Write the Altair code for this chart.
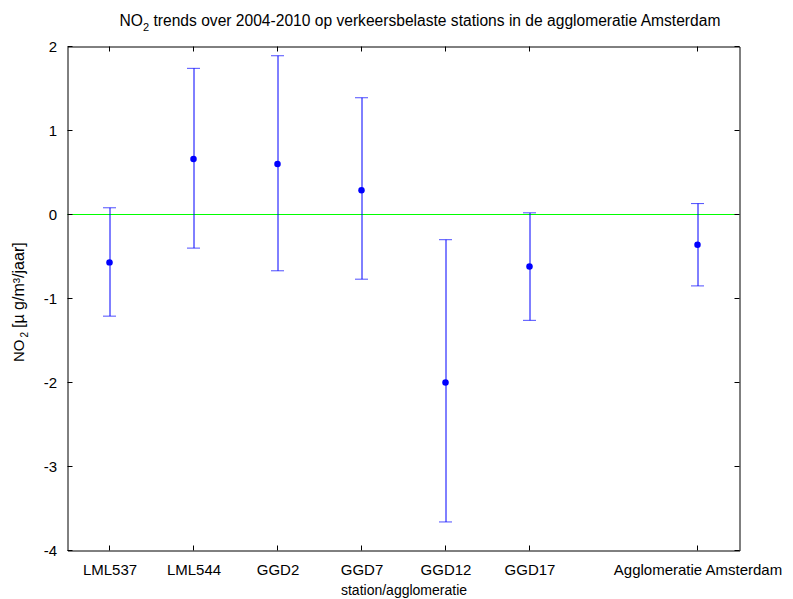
import altair as alt
import pandas as pd

# ---- data ----
stations = ["LML537", "LML544", "GGD2", "GGD7", "GGD12", "GGD17", "Agglomeratie Amsterdam"]
xpos = [1, 2, 3, 4, 5, 6, 8]
trend = [-0.57, 0.66, 0.60, 0.29, -2.00, -0.62, -0.36]
lower = [-1.21, -0.40, -0.67, -0.77, -3.66, -1.26, -0.85]
upper = [0.08, 1.74, 1.89, 1.39, -0.30, 0.02, 0.13]
ytick_values = [-4, -3, -2, -1, 0, 1, 2]
xtick_values = xpos

title_main = "NO"
title_sub = "2"
title_rest = "trends over 2004-2010 op verkeersbelaste stations in de agglomeratie Amsterdam"
ylab_main = "NO"
ylab_sub = "2"
ylab_rest = "[\u00b5 g/m\u00b3/jaar]"
xlab = "station/agglomeratie"

FONT = "Liberation Sans"
W, H = 672, 504
BLUE = "#0000ff"

label_expr = " : ".join(
    f"datum.value == {p} ? '{s}'" for p, s in zip(xpos, stations)
) + " : ''"

xs = alt.Scale(domain=[0.5, 8.5], nice=False, zero=False)
ys = alt.Scale(domain=[-4, 2], nice=False, zero=False)
xaxis = alt.Axis(values=xtick_values, labelExpr=label_expr, title=xlab, grid=False,
                 ticks=False, domain=False, labelPadding=12, titlePadding=6,
                 labelFont=FONT, labelFontSize=15, labelColor="black",
                 titleFont=FONT, titleFontSize=14, titleFontWeight="normal", titleColor="black",
                 labelOverlap=False)
yaxis = alt.Axis(values=ytick_values, title=None, grid=False, ticks=False, domain=False,
                 labelPadding=11, labelFont=FONT, labelFontSize=15, labelColor="black",
                 labelExpr="toString(datum.value)")

X = alt.X("x:Q", scale=xs, axis=xaxis)
Y = alt.Y("y:Q", scale=ys, axis=yaxis)

df_bar = pd.DataFrame({"x": xpos, "y": lower, "y2": upper})
df_lo = pd.DataFrame({"x": xpos, "y": lower})
df_hi = pd.DataFrame({"x": xpos, "y": upper})
df_pt = pd.DataFrame({"x": xpos, "y": trend})
df_zero = pd.DataFrame({"y": [0]})
df_xt = pd.DataFrame({"x": xtick_values})
df_yt = pd.DataFrame({"y": ytick_values})

zero = alt.Chart(df_zero).mark_rule(color="#00ff00", strokeWidth=1).encode(y=Y)
bars = alt.Chart(df_bar).mark_rule(color=BLUE, strokeWidth=1, xOffset=0.5).encode(x=X, y=Y, y2="y2:Q")
cap_lo = alt.Chart(df_lo).mark_tick(color=BLUE, orient="horizontal", size=13, thickness=1).encode(x=X, y=Y)
cap_hi = alt.Chart(df_hi).mark_tick(color=BLUE, orient="horizontal", size=13, thickness=1).encode(x=X, y=Y)
pts = alt.Chart(df_pt).mark_circle(color=BLUE, opacity=1, size=42).encode(x=X, y=Y)

TL = 5
xt_bot = alt.Chart(df_xt).mark_rule(color="black", strokeWidth=1).encode(x=X, y=alt.value(H - TL), y2=alt.value(H))
xt_top = alt.Chart(df_xt).mark_rule(color="black", strokeWidth=1).encode(x=X, y=alt.value(0), y2=alt.value(TL))
yt_left = alt.Chart(df_yt).mark_rule(color="black", strokeWidth=1).encode(y=Y, x=alt.value(0), x2=alt.value(TL))
yt_right = alt.Chart(df_yt).mark_rule(color="black", strokeWidth=1).encode(y=Y, x=alt.value(W - TL), x2=alt.value(W))

def txt(s, x, y, size=15, angle=0, align="left"):
    return alt.Chart(pd.DataFrame({"t": [s]})).mark_text(
        font=FONT, fontSize=size, color="black", align=align, baseline="alphabetic",
        angle=angle
    ).encode(text="t:N", x=alt.value(x), y=alt.value(y))

# title (NO2 with subscript)
t1 = txt(title_main, 52, -21, size=15.6)
t2 = txt(title_sub, 75.5, -16, size=11)
t3 = txt(title_rest, 86, -21, size=15.6)
# y-axis label (rotated)
l1 = txt(ylab_main, -44, 315.5, angle=270)
l2 = txt(ylab_sub, -40, 291, size=10, angle=270)
l3 = txt(ylab_rest, -44, 281.5, size=16, angle=270)

chart = alt.layer(
    zero, bars, cap_lo, cap_hi, pts, xt_bot, xt_top, yt_left, yt_right,
    t1, t2, t3, l1, l2, l3
).properties(
    width=W, height=H,
    autosize=alt.AutoSizeParams(type="none"),
    padding={"left": 59.5, "top": 38.5, "right": 45, "bottom": 48},
).configure(background="white").configure_view(stroke="black", strokeWidth=1)

chart.save("out.html", embed_options={"renderer": "svg", "actions": False})
